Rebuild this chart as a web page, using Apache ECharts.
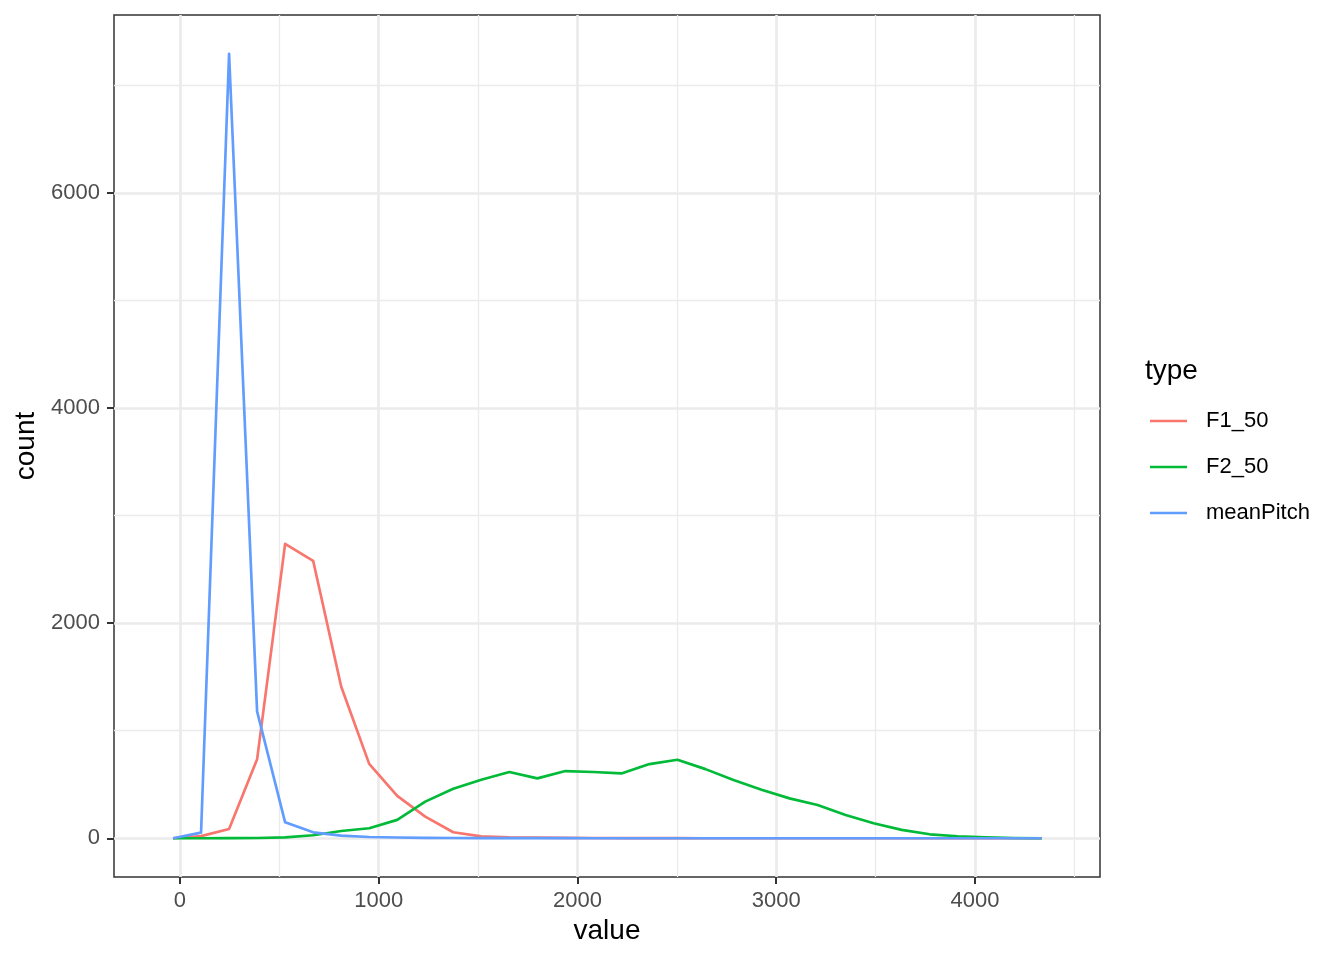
<!DOCTYPE html>
<html>
<head>
<meta charset="utf-8">
<script src="https://cdn.jsdelivr.net/npm/echarts@6/dist/echarts.min.js"></script>
<style>
html,body{margin:0;padding:0;background:#fff;}
#chart{width:1344px;height:960px;}
</style>
</head>
<body>
<div id="chart"></div>
<script>
// Bin centres (x) shared by all series
var binCenters = [-35, 106, 247, 388, 529, 670, 811, 952, 1093, 1234, 1375, 1516, 1657, 1798, 1939, 2080,
  2221, 2362, 2503, 2644, 2785, 2926, 3067, 3208, 3349, 3490, 3631, 3772, 3913, 4054, 4195, 4336];
var seriesNames = ['F1_50', 'F2_50', 'meanPitch'];
var countF1 = [0, 20, 87, 734, 2737, 2580, 1412, 692, 394, 202, 56, 18, 8, 6, 4, 3,
  2, 1, 1, 0, 0, 0, 0, 0, 0, 0, 0, 0, 0, 0, 0, 0];
var countF2 = [0, 0, 1, 3, 9, 28, 68, 93, 171, 341, 460, 544, 616, 557, 625, 616,
  603, 690, 730, 643, 541, 451, 371, 309, 217, 140, 78, 37, 19, 9, 3, 0];
var countPitch = [0, 53, 7295, 1180, 148, 55, 25, 12, 7, 4, 3, 2, 1, 1, 1, 0,
  0, 0, 0, 0, 0, 0, 0, 0, 0, 0, 0, 0, 0, 0, 0, 0];
var xTicks = [0, 1000, 2000, 3000, 4000];
var xMinor = [500, 1500, 2500, 3500, 4500];
var yTicks = [0, 2000, 4000, 6000];
var yMinor = [1000, 3000, 5000, 7000];
var colors = ['#F8766D', '#00BA38', '#619CFF'];

var FONT = '"Liberation Sans", Arial, sans-serif';
function pairs(vals) { return binCenters.map(function (x, i) { return [x, vals[i]]; }); }
function gridSeries(xs, ys, w) {
  var d = [];
  xs.forEach(function (v) { d.push({ xAxis: v }); });
  ys.forEach(function (v) { d.push({ yAxis: v }); });
  return {
    type: 'line', name: '_grid' + w, data: [[0, 0]], symbol: 'none', z: 1,
    lineStyle: { opacity: 0 }, silent: true, animation: false,
    markLine: {
      z: 1, silent: true, symbol: ['none', 'none'], animation: false, label: { show: false },
      lineStyle: { color: '#EBEBEB', width: w, type: 'solid' }, emphasis: { disabled: true },
      data: d
    }
  };
}
var allVals = [countF1, countF2, countPitch];
var series = [gridSeries(xMinor, yMinor, 1.33), gridSeries(xTicks, yTicks, 2.67)];
seriesNames.forEach(function (n, i) {
  series.push({
    type: 'line', name: n, data: pairs(allVals[i]), symbol: 'none', z: 6 + i,
    lineStyle: { color: colors[i], width: 2.67, join: 'round' }, itemStyle: { color: colors[i] },
    animation: false
  });
});
function plain(v) { return String(v); }

var chart = echarts.init(document.getElementById('chart'), null, { renderer: 'canvas' });
chart.setOption({
  backgroundColor: '#fff',
  textStyle: { fontFamily: FONT },
  title: {
    text: 'type', left: 1140, top: 352,
    textStyle: { fontFamily: FONT, fontSize: 28, fontWeight: 'normal', color: '#000' }
  },
  legend: {
    data: seriesNames.map(function (n) { return { name: n, icon: 'rect' }; }),
    orient: 'vertical', left: 1145, top: 405,
    itemWidth: 37, itemHeight: 2.67, itemGap: 24, selectedMode: false,
    textStyle: { fontFamily: FONT, fontSize: 22, color: '#000', padding: [0, 0, 0, 14] }
  },
  grid: {
    left: 114, top: 15, width: 986, height: 862, show: true, outerBoundsMode: 'none', containLabel: false,
    borderColor: '#333333', borderWidth: 1.5, backgroundColor: 'transparent'
  },
  xAxis: {
    type: 'value', min: -332, max: 4629,
    name: 'value', nameLocation: 'middle', nameGap: 40,
    nameTextStyle: { fontFamily: FONT, fontSize: 28, color: '#000' },
    axisLine: { show: false, onZero: false },
    splitLine: { show: false },
    axisTick: { show: true, customValues: xTicks, length: 7, lineStyle: { color: '#333333', width: 2 } },
    axisLabel: { customValues: xTicks, formatter: plain, fontFamily: FONT, fontSize: 22, color: '#4D4D4D', margin: 13 }
  },
  yAxis: {
    type: 'value', min: -360, max: 7655,
    name: 'count', nameLocation: 'middle', nameGap: 69, nameRotate: 90,
    nameTextStyle: { fontFamily: FONT, fontSize: 28, color: '#000' },
    axisLine: { show: false, onZero: false },
    splitLine: { show: false },
    axisTick: { show: true, customValues: yTicks, length: 7, lineStyle: { color: '#333333', width: 2 } },
    axisLabel: { customValues: yTicks, formatter: plain, fontFamily: FONT, fontSize: 22, color: '#4D4D4D', margin: 14 }
  },
  series: series
});
</script>
</body>
</html>
